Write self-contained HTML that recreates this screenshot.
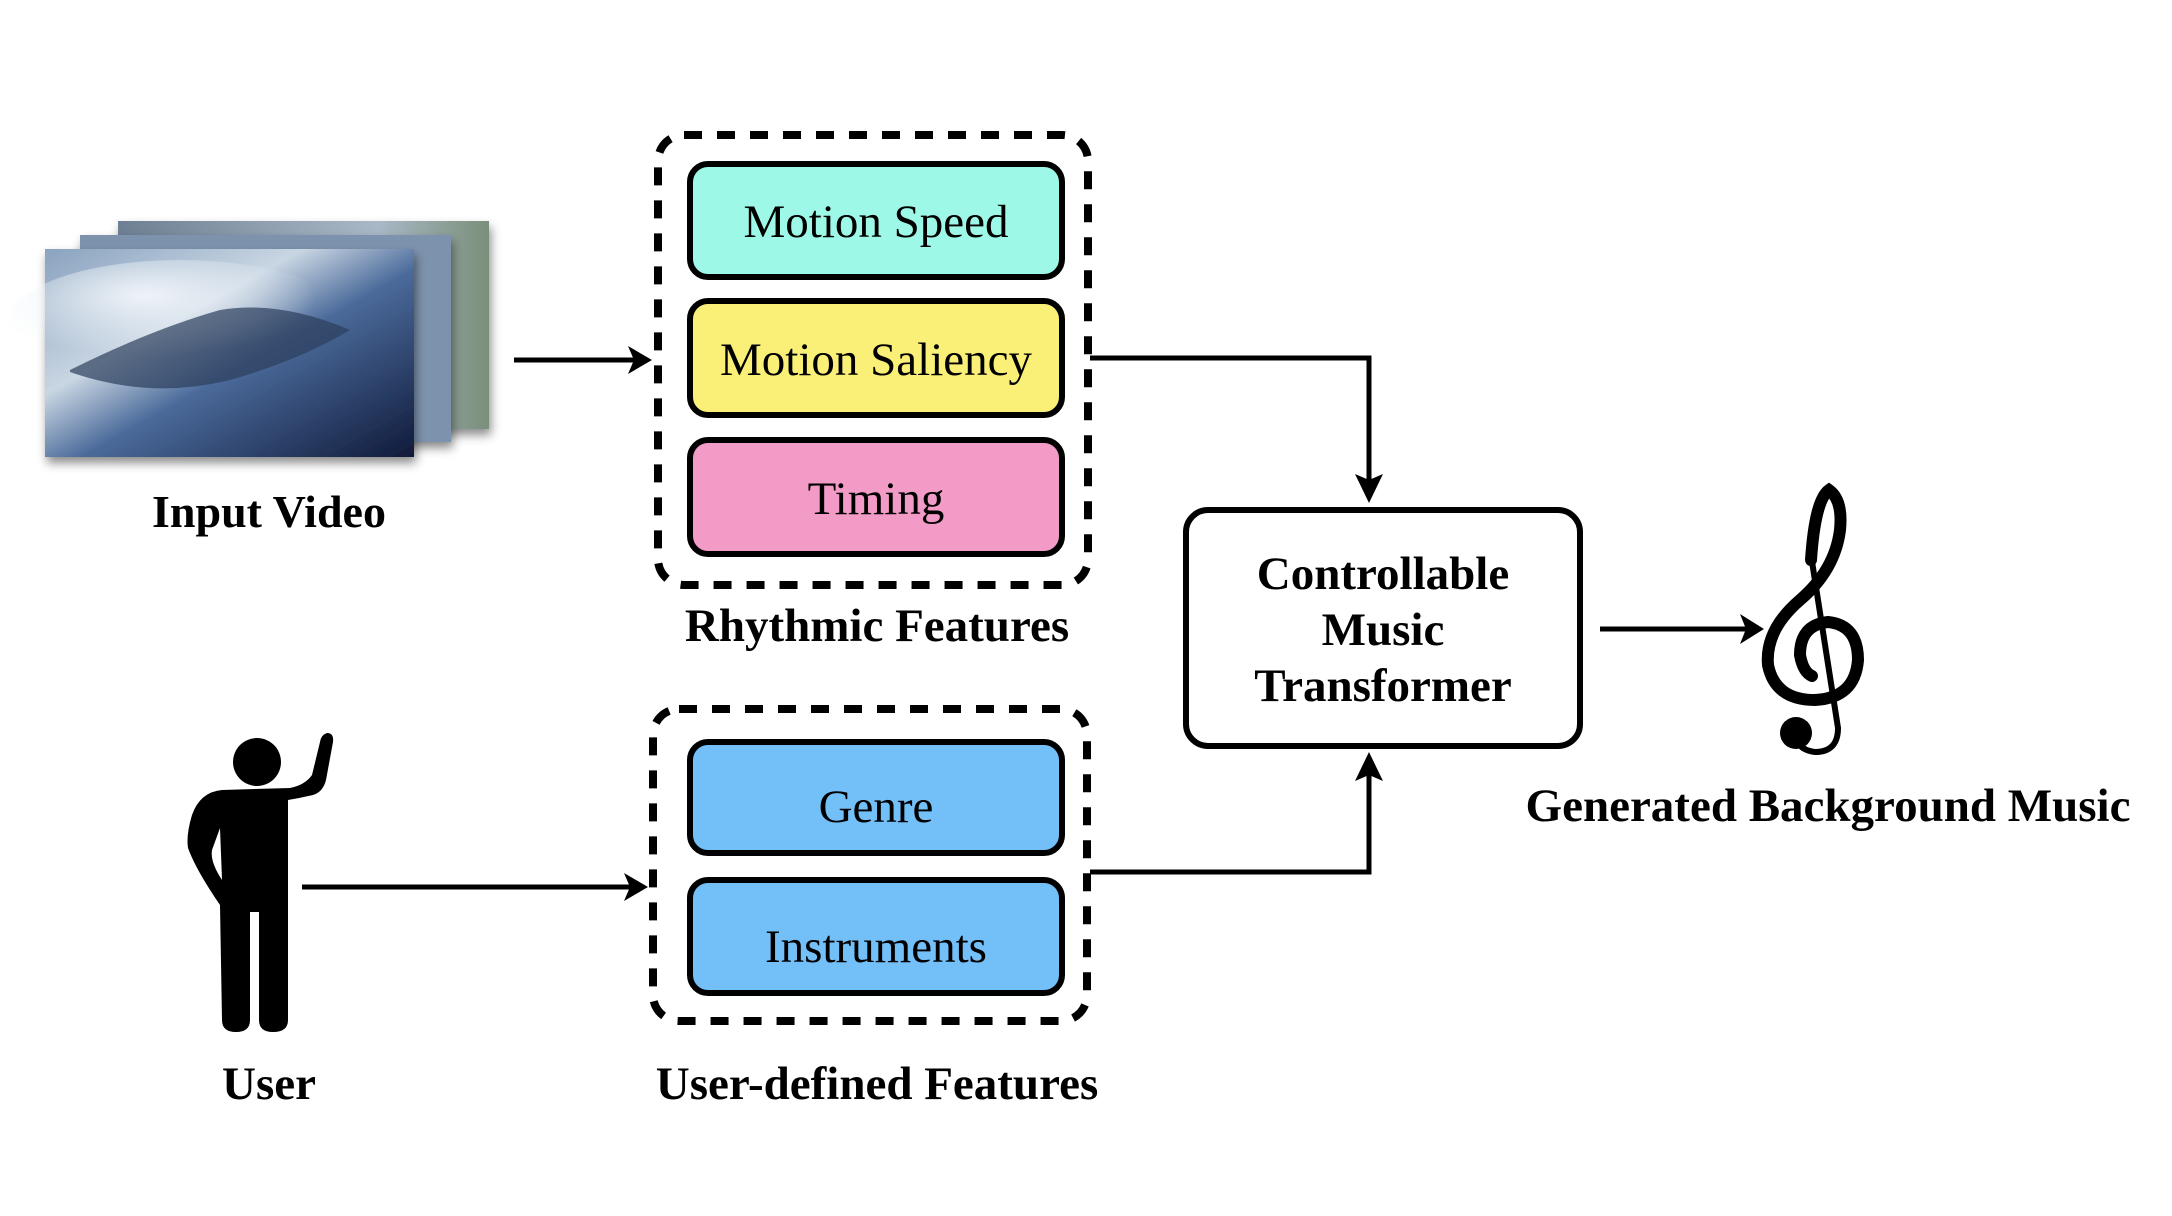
<!DOCTYPE html>
<html><head><meta charset="utf-8"><style>
html,body{margin:0;padding:0;background:#fff;}
svg{display:block;}
text{font-family:"Liberation Serif",serif;}
</style></head><body>
<svg width="2172" height="1216" viewBox="0 0 2172 1216" xmlns="http://www.w3.org/2000/svg">
<defs>
<linearGradient id="g1" x1="0" y1="0" x2="1" y2="1">
<stop offset="0" stop-color="#8aa3bf"/><stop offset="0.35" stop-color="#c9d6e3"/><stop offset="0.55" stop-color="#4a6a9a"/><stop offset="1" stop-color="#101a3a"/></linearGradient>
<linearGradient id="g2" x1="0" y1="0" x2="1" y2="0">
<stop offset="0" stop-color="#6d7f93"/><stop offset="0.7" stop-color="#a9b8c6"/><stop offset="1" stop-color="#7a8f7a"/></linearGradient>
<radialGradient id="cl" cx="0.4" cy="0.3" r="0.5"><stop offset="0" stop-color="#eef3f8"/><stop offset="1" stop-color="#eef3f8" stop-opacity="0"/></radialGradient>
<filter id="sh" x="-10%" y="-10%" width="130%" height="130%"><feDropShadow dx="2" dy="6" stdDeviation="5" flood-opacity="0.45"/></filter>
</defs>

<!-- video frames -->
<rect x="118" y="221" width="371" height="208" fill="url(#g2)" filter="url(#sh)"/>
<rect x="80" y="235" width="371" height="207" fill="#7d93ad" filter="url(#sh)"/>
<rect x="45" y="249" width="369" height="208" fill="url(#g1)" filter="url(#sh)"/>
<ellipse cx="180" cy="320" rx="170" ry="60" fill="url(#cl)"/>
<path d="M70 370 Q150 330 220 310 Q280 300 350 330 Q300 360 230 380 Q150 400 70 372Z" fill="#2c3e5c" opacity="0.7"/>

<text x="269" y="527" font-size="46" font-weight="bold" text-anchor="middle">Input Video</text>

<!-- arrow video -> rhythmic -->
<line x1="514" y1="360" x2="640" y2="360" stroke="#000" stroke-width="5"/>
<path d="M652 360 L628 346 L634 360 L628 374Z" fill="#000"/>

<!-- Rhythmic dashed box -->
<rect x="658" y="135" width="430" height="450" rx="26" fill="none" stroke="#000" stroke-width="8" stroke-dasharray="18 15"/>
<rect x="690" y="164" width="372" height="113" rx="18" fill="#9ef8e7" stroke="#000" stroke-width="6"/>
<text x="876" y="237" font-size="47" text-anchor="middle">Motion Speed</text>
<rect x="690" y="301" width="372" height="114" rx="18" fill="#fbf077" stroke="#000" stroke-width="6"/>
<text x="876" y="375" font-size="47" text-anchor="middle">Motion Saliency</text>
<rect x="690" y="440" width="372" height="114" rx="18" fill="#f29bc7" stroke="#000" stroke-width="6"/>
<text x="876" y="514" font-size="47" text-anchor="middle">Timing</text>
<text x="877" y="641" font-size="47" font-weight="bold" text-anchor="middle">Rhythmic Features</text>

<!-- User dashed box -->
<rect x="653" y="709" width="434" height="312" rx="26" fill="none" stroke="#000" stroke-width="8" stroke-dasharray="18 15"/>
<rect x="690" y="742" width="372" height="111" rx="18" fill="#73bff8" stroke="#000" stroke-width="6"/>
<text x="876" y="822" font-size="47" text-anchor="middle">Genre</text>
<rect x="690" y="880" width="372" height="113" rx="18" fill="#73bff8" stroke="#000" stroke-width="6"/>
<text x="876" y="962" font-size="47" text-anchor="middle">Instruments</text>
<text x="877" y="1099" font-size="47" font-weight="bold" text-anchor="middle">User-defined Features</text>

<!-- connectors -->
<polyline points="1090,358 1369,358 1369,480" fill="none" stroke="#000" stroke-width="5"/>
<path d="M1369 503 L1355 474 L1369 480 L1383 474Z" fill="#000"/>
<polyline points="1090,872 1369,872 1369,775" fill="none" stroke="#000" stroke-width="5"/>
<path d="M1369 752 L1355 781 L1369 775 L1383 781Z" fill="#000"/>

<!-- CMT box -->
<rect x="1186" y="510" width="394" height="236" rx="22" fill="#fff" stroke="#000" stroke-width="6"/>
<text x="1383" y="589" font-size="47" font-weight="bold" text-anchor="middle">Controllable</text>
<text x="1383" y="645" font-size="47" font-weight="bold" text-anchor="middle">Music</text>
<text x="1383" y="701" font-size="47" font-weight="bold" text-anchor="middle">Transformer</text>

<!-- arrow to clef -->
<line x1="1600" y1="629" x2="1750" y2="629" stroke="#000" stroke-width="5"/>
<path d="M1764 629 L1740 614 L1746 629 L1740 644Z" fill="#000"/>

<!-- treble clef -->
<g fill="none" stroke="#000" stroke-linecap="round">
<path d="M1811 560 Q1815 500 1829 490 Q1843 500 1840 530 Q1835 570 1800 600 Q1765 630 1768 665 Q1775 700 1815 700 Q1855 698 1858 660 Q1858 625 1828 622 Q1800 625 1800 655 Q1803 672 1812 676" stroke-width="12"/>
<path d="M1811 555 L1838 728 Q1838 752 1815 752 Q1800 750 1797 740" stroke-width="6"/>
</g>
<circle cx="1796" cy="733" r="16" fill="#000"/>

<text x="1828" y="821" font-size="47" font-weight="bold" text-anchor="middle">Generated Background Music</text>

<!-- user figure -->
<g fill="#000">
<circle cx="257" cy="762" r="24"/>
<path d="M222 790 Q200 792 192 815 Q186 835 188 848 Q196 870 220 905 L222 1020 Q222 1032 236 1032 Q250 1032 250 1020 L250 912 L259 912 L259 1020 Q259 1032 273 1032 Q288 1032 288 1020 L288 800 Q300 798 313 795 Q323 792 326 780 L333 742 Q334 733 327 733 Q321 735 320 742 L312 775 Q305 785 290 788 Z M220 828 L222 880 Q210 862 212 850Z" fill-rule="evenodd"/>
</g>
<text x="269" y="1099" font-size="47" font-weight="bold" text-anchor="middle">User</text>

<!-- user arrow -->
<line x1="302" y1="887" x2="634" y2="887" stroke="#000" stroke-width="5"/>
<path d="M648 887 L624 873 L630 887 L624 901Z" fill="#000"/>
</svg>
</body></html>
